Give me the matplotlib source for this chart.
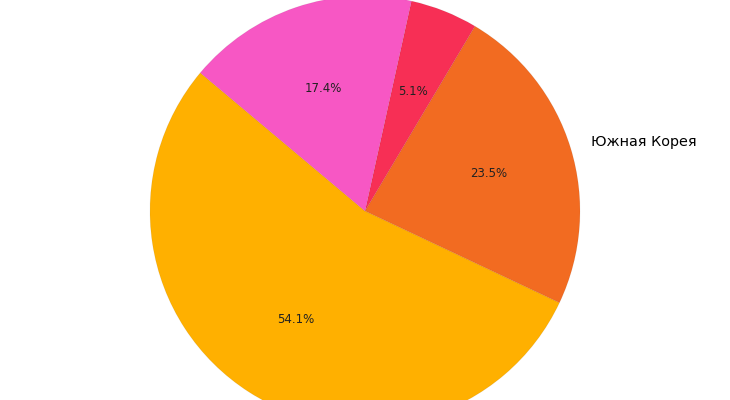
import matplotlib
matplotlib.use('Agg')
import matplotlib.pyplot as plt

# Shares by slice; only the "Южная Корея" label lies inside the visible frame
labels = ['', 'Южная Корея', '', '']
shares = [54.12, 23.48, 5.08, 17.36]
colors = ['#FFB000', '#F26B21', '#F72F55', '#F757C4']

fig = plt.figure(figsize=(7.3, 4.0), dpi=100)
ax = fig.add_axes([0, 0, 1, 1])

wedges, texts, autotexts = ax.pie(
    shares, labels=labels, colors=colors, autopct='%1.1f%%',
    startangle=140, wedgeprops=dict(linewidth=0.6, edgecolor=(0, 0, 0, 0.06)),
    textprops=dict(fontsize=10.4, color='black'))
for t in autotexts:
    t.set_fontsize(8.5)
    t.set_color('#222222')

# pie radius 1 = 215 px, centre at (365, 211) from top-left
ax.set_aspect('equal')
ax.set_xlim(-365 / 215, 365 / 215)
ax.set_ylim(-189 / 215, 211 / 215)
ax.axis('off')

plt.savefig('out.png', dpi=100)
